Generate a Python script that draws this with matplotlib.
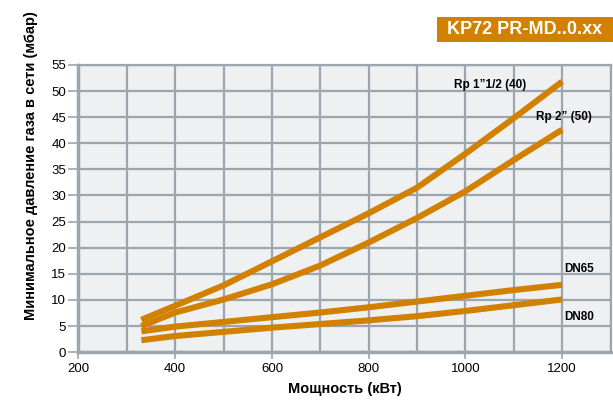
import numpy as np
import matplotlib.pyplot as plt
from matplotlib.patches import Rectangle
from matplotlib.ticker import MultipleLocator

# power (kW) vs minimum gas supply pressure (mbar)
power = [330, 400, 500, 600, 700, 800, 900, 1000, 1100, 1200]
rp40 = [6.2, 8.9, 12.8, 17.4, 22.0, 26.6, 31.5, 38.0, 44.8, 51.8]
rp50 = [5.0, 7.6, 10.1, 13.0, 16.6, 21.0, 25.7, 30.8, 36.8, 42.6]
dn65 = [4.0, 4.9, 5.8, 6.7, 7.6, 8.6, 9.7, 10.8, 11.9, 12.9]
dn80 = [2.3, 3.1, 3.9, 4.7, 5.4, 6.1, 6.9, 7.9, 9.0, 10.1]

series = [rp40, rp50, dn65, dn80]
labels = ['Rp 1\u201d1/2 (40)', 'Rp 2\u201d (50)', 'DN65', 'DN80']
label_pos = [(1126, 51.2, 'right'), (1146, 45.1, 'left'), (1204, 16.0, 'left'), (1204, 6.7, 'left')]

title = 'KP72 PR-MD..0.xx'
xlabel = 'Мощность (кВт)'
ylabel = 'Минимальное давление газа в сети (мбар)'

orange = '#d18000'
grid_c = '#9ba6ae'

plt.rcParams['font.family'] = ['Liberation Sans', 'DejaVu Sans']

fig = plt.figure(figsize=(6.13, 4.03), dpi=100)
ax = fig.add_axes([0.128, 0.126, 0.868, 0.713])
ax.set_facecolor('#eef0f2')

for y in series:
    ax.plot(power, y, color=orange, lw=4.4, solid_capstyle='butt', zorder=3)

for (x, y, ha), t in zip(label_pos, labels):
    ax.text(x, y, t, ha=ha, va='center', fontsize=8.5, fontweight='bold', zorder=4)

ax.set_xlim(200, 1300)
ax.set_ylim(0, 55)
ax.xaxis.set_major_locator(MultipleLocator(200))
ax.xaxis.set_minor_locator(MultipleLocator(100))
ax.yaxis.set_major_locator(MultipleLocator(5))
ax.grid(True, which='both', color=grid_c, lw=1.6, zorder=1)
ax.tick_params(axis='x', which='minor', length=0)
ax.tick_params(axis='x', which='major', length=5, width=1.2, color=grid_c, labelsize=9.5, pad=3)
ax.tick_params(axis='y', length=7, width=1.2, color=grid_c, labelsize=9.5, pad=2)
for s in ax.spines.values():
    s.set_color(grid_c)
    s.set_linewidth(1.6)
ax.spines['left'].set_linewidth(2.5)
ax.spines['bottom'].set_linewidth(2.5)

ax.set_xlabel(xlabel, fontsize=10.5, fontweight='bold', labelpad=5)
fig.text(0.05, 0.59, ylabel, rotation=90, ha='center', va='center',
         fontsize=10.5, fontweight='bold')

# title badge
fig.patches.append(Rectangle((437 / 613, 1 - 42 / 403), 176 / 613, 25 / 403,
                             transform=fig.transFigure, fc=orange, ec='none'))
fig.text(525 / 613, 1 - 30 / 403, title, ha='center', va='center', color='white',
         fontsize=13, fontweight='bold')

fig.savefig('out.png', dpi=100)
